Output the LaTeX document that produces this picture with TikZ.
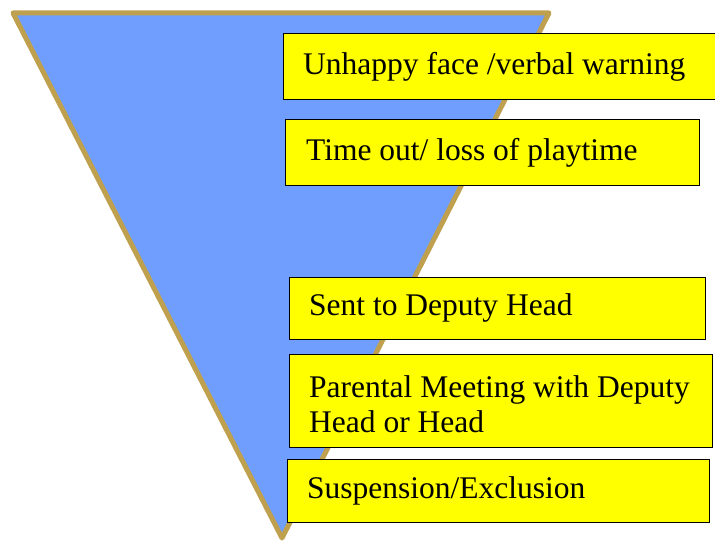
\documentclass[tikz,border=0pt]{standalone}
\usepackage{fontspec}
\setmainfont{Liberation Serif}
\usepackage{tikz}
\usetikzlibrary{positioning}
\definecolor{funnelblue}{HTML}{6F9EFF}
\definecolor{funnelrim}{HTML}{BFA04E}
\definecolor{stageyellow}{HTML}{FFFF00}

\tikzset{
  stagebox/.style={draw=black, line width=0.8pt, fill=stageyellow, anchor=north west, inner sep=0pt},
  stagetext/.style={inner sep=0pt, align=left, font=\fontsize{31.5}{35}\selectfont}
}

\begin{document}
\begin{tikzpicture}[x=1pt, y=-1pt]
\useasboundingbox (0,0) rectangle (715,543);

\draw[funnelrim, fill=funnelblue, line width=5pt, line join=round]
  (13,13) -- (549,13) -- (282,538) -- cycle;

\node[stagebox, minimum width=435pt, minimum height=66pt] (warning) at (283,33) {};
\node[stagebox, minimum width=414pt, minimum height=66pt] (timeout) at (285,119) {};
\node[stagebox, minimum width=416pt, minimum height=62pt] (deputy) at (289,277) {};
\node[stagebox, minimum width=423pt, minimum height=93pt] (meeting) at (289,354) {};
\node[stagebox, minimum width=422pt, minimum height=63pt] (exclusion) at (287,459) {};

\node[stagetext, right=20pt of warning.west] (warningtext) {Unhappy face /verbal warning};
\node[stagetext, right=21pt of timeout.west] (timeouttext) {Time out/ loss of playtime};
\node[stagetext, right=20pt of deputy.west] (deputytext) {Sent to Deputy Head};
\node[stagetext, right=20pt of meeting.west, yshift=-3pt] (meetingtext) {Parental Meeting with Deputy\\Head or Head};
\node[stagetext, right=20pt of exclusion.west] (exclusiontext) {Suspension/Exclusion};

\end{tikzpicture}
\end{document}
